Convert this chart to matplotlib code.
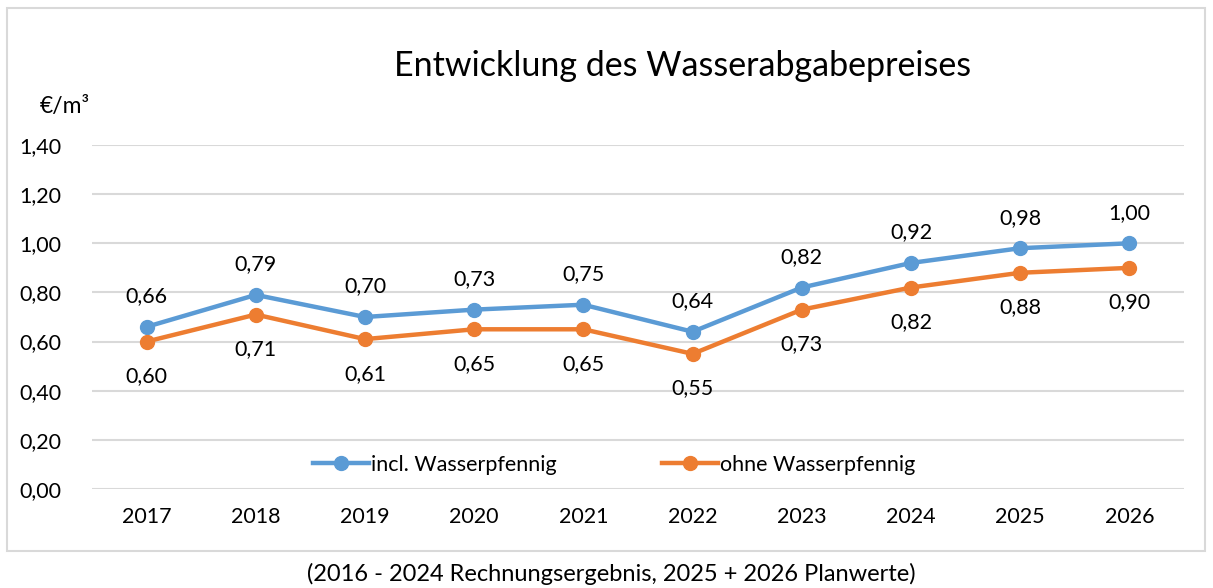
import matplotlib.pyplot as plt
from matplotlib.patches import Rectangle

plt.rcParams['font.family'] = ['Lato', 'DejaVu Sans']

years = ['2017', '2018', '2019', '2020', '2021', '2022', '2023', '2024', '2025', '2026']
incl = [0.66, 0.79, 0.70, 0.73, 0.75, 0.64, 0.82, 0.92, 0.98, 1.00]
ohne = [0.60, 0.71, 0.61, 0.65, 0.65, 0.55, 0.73, 0.82, 0.88, 0.90]
yticks = [0.0, 0.2, 0.4, 0.6, 0.8, 1.0, 1.2, 1.4]

blue = '#5B9BD5'
orange = '#ED7D31'

W, H = 1213, 588
fig = plt.figure(figsize=(W / 100, H / 100), dpi=100)
ax = fig.add_axes([92 / W, 1 - 489 / H, (1184 - 92) / W, (489 - 145) / H])

x = range(len(years))
ax.plot(x, incl, color=blue, lw=3.2, marker='o', ms=10, label='incl. Wasserpfennig', zorder=3)
ax.plot(x, ohne, color=orange, lw=3.2, marker='o', ms=10, label='ohne Wasserpfennig', zorder=3)

def fmt(v):
    return f'{v:.2f}'.replace('.', ',')

fs = 15.5
for i in x:
    ax.annotate(fmt(incl[i]), (i, incl[i]), xytext=(0, 22), textcoords='offset points',
                ha='center', va='center', fontsize=fs, color='#000000')
    ax.annotate(fmt(ohne[i]), (i, ohne[i]), xytext=(0, -25), textcoords='offset points',
                ha='center', va='center', fontsize=fs, color='#000000')

ax.set_xlim(-0.5, len(years) - 0.5)
ax.set_ylim(0, 1.4)
ax.set_xticks(list(x))
ax.set_xticklabels(years, fontsize=fs)
ax.set_yticks(yticks)
ax.set_yticklabels([fmt(v) for v in yticks], fontsize=fs)
ax.tick_params(length=0, pad=13)
ax.tick_params(axis='y', pad=22)
ax.grid(axis='y', color='#d9d9d9', lw=1.5)
ax.set_axisbelow(True)
for s in ax.spines.values():
    s.set_visible(False)

leg = ax.legend(loc='center', bbox_to_anchor=(0.478, 0.07), ncol=2, frameon=False,
                fontsize=fs, handlelength=2.6, columnspacing=4.9, handletextpad=0.1)

fig.text(683 / W, 1 - 66 / H, 'Entwicklung des Wasserabgabepreises', ha='center', va='center',
         fontsize=24.5)
fig.text(40 / W, 1 - 106 / H, '€/m³', ha='left', va='center', fontsize=16.5)
fig.text(611 / W, 1 - 574 / H, '(2016 - 2024 Rechnungsergebnis, 2025 + 2026 Planwerte)',
         ha='center', va='center', fontsize=17)

fig.patches.append(Rectangle((7 / W, 1 - 551 / H), (1205 - 7) / W, (551 - 8) / H,
                             transform=fig.transFigure, fill=False, ec='#d9d9d9', lw=1.5))

fig.savefig('out.png', dpi=100)
